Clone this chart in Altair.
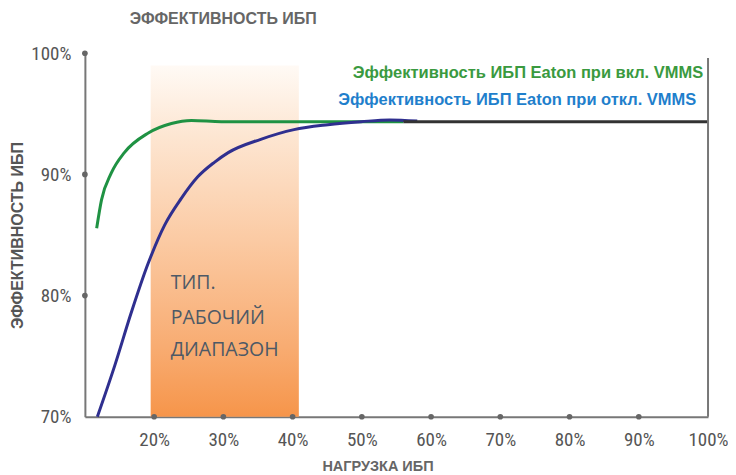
import altair as alt
import pandas as pd

# ---- data ----
green_load = [11.7, 12.4, 13.8, 15.7, 19.1, 22.5, 25.4, 29.7, 35.0, 42.0, 50.0, 56.0]
green_eff = [85.55, 87.9, 90.1, 91.8, 93.4, 94.2, 94.45, 94.35, 94.35, 94.35, 94.35, 94.35]

blue_load = [11.8, 14.3, 16.7, 19.1, 21.5, 23.9, 26.3, 28.7, 30.7, 35.4, 40.2, 45.1, 49.9, 54.0, 58.0]
blue_eff = [70.0, 74.2, 78.6, 82.6, 85.8, 88.0, 89.8, 91.0, 91.8, 92.9, 93.7, 94.1, 94.35, 94.5, 94.4]

merged_load = [56.0, 100.0]
merged_eff = [94.35, 94.35]

band_start, band_end, band_low, band_high = 19.5, 40.9, 70, 99
x_tick_values = [20, 30, 40, 50, 60, 70, 80, 90, 100]
x_dot_values = [20, 30, 40, 50, 60, 70, 80, 90]
y_tick_values = [70, 80, 90, 100]
y_dot_values = [80, 90, 100]

title_text = "ЭФФЕКТИВНОСТЬ ИБП"
x_title = "НАГРУЗКА ИБП"
y_title = "ЭФФЕКТИВНОСТЬ ИБП"
green_label = "Эффективность ИБП Eaton при вкл. VMMS"
blue_label = "Эффективность ИБП Eaton при откл. VMMS"
band_lines = ["ТИП.", "РАБОЧИЙ", "ДИАПАЗОН"]
band_line_y = [81.05, 78.16, 75.52]
band_label_x = 22.4

# ---- tables ----
green_df = pd.DataFrame({"load": green_load, "eff": green_eff})
blue_df = pd.DataFrame({"load": blue_load, "eff": blue_eff})
merged_df = pd.DataFrame({"load": merged_load, "eff": merged_eff})
band_df = pd.DataFrame({"load": [band_start], "x2": [band_end], "eff": [band_low], "y2": [band_high]})
xdots_df = pd.DataFrame({"load": x_dot_values, "eff": [70] * len(x_dot_values)})
ydots_df = pd.DataFrame({"load": [10] * len(y_dot_values), "eff": y_dot_values})
right_df = pd.DataFrame({"load": [100], "eff": [70], "eff2": [99.6]})
legend_df = pd.DataFrame({
    "load": [99.3, 98.3], "eff": [98.36, 96.13],
    "label": [green_label, blue_label], "c": ["#3a9a3f", "#1f7fcc"],
})
band_text_df = pd.DataFrame({"load": [band_label_x] * 3, "eff": band_line_y, "label": band_lines})

xscale = alt.Scale(domain=[10, 100], nice=False, zero=False)
yscale = alt.Scale(domain=[70, 100], nice=False, zero=False)

AX = "#777777"
LBL = "#555555"
narrow = "Liberation Sans Narrow, Roboto Condensed, Roboto, sans-serif"
boldf = "Liberation Sans, Arial, sans-serif"

x_axis = alt.Axis(values=x_tick_values, labelExpr="datum.value + '%'",
                  domainColor=AX, domainWidth=2, ticks=False, grid=False,
                  labelFont=narrow, labelFontSize=19, labelColor=LBL, labelPadding=14,
                  title=x_title, titleFont=boldf, titleFontSize=14.5, titleColor="#666666",
                  titleFontWeight="bold", titleX=293, titleY=43, titleBaseline="top",
                  labelFlush=False)
y_axis = alt.Axis(values=y_tick_values, labelExpr="datum.value + '%'",
                  domainColor=AX, domainWidth=2, ticks=False, grid=False,
                  labelFont=narrow, labelFontSize=19, labelColor=LBL, labelPadding=14,
                  title=y_title, titleFont=boldf, titleFontSize=16, titleColor="#555555",
                  titleFontWeight="bold", titleX=-67, titleY=182, titleAngle=270,
                  titleAlign="center", titleBaseline="middle", labelFlush=False)

X = alt.X("load:Q", scale=xscale, axis=x_axis)
Y = alt.Y("eff:Q", scale=yscale, axis=y_axis)

grad = alt.LinearGradient(
    gradient="linear", x1=0, x2=0, y1=0, y2=1,
    stops=[
        alt.GradientStop(color="#fffaf5", offset=0),
        alt.GradientStop(color="#fde6d2", offset=0.2),
        alt.GradientStop(color="#fbcaa3", offset=0.5),
        alt.GradientStop(color="#f8ac72", offset=0.8),
        alt.GradientStop(color="#f6954a", offset=1),
    ],
)

band = alt.Chart(band_df).mark_rect(color=grad).encode(x=X, x2="x2:Q", y=Y, y2="y2:Q")

def line(df, color):
    return alt.Chart(df).mark_line(color=color, strokeWidth=3, interpolate="monotone").encode(x=X, y=Y)

green = line(green_df, "#1f9243")
blue = line(blue_df, "#2f2f8f")
merged = line(merged_df, "#333333")

right_rule = alt.Chart(right_df).mark_rule(color=AX, strokeWidth=2).encode(x=X, y=Y, y2="eff2:Q")

xdots = alt.Chart(xdots_df).mark_circle(color="#666666", size=32, opacity=1).encode(x=X, y=Y)
ydots = alt.Chart(ydots_df).mark_circle(color="#666666", size=32, opacity=1).encode(x=X, y=Y)

legend_text = alt.Chart(legend_df).mark_text(
    align="right", baseline="middle", font=boldf, fontSize=16.5, fontWeight="bold"
).encode(x=X, y=Y, text="label:N", color=alt.Color("c:N", scale=None))

band_text = alt.Chart(band_text_df).mark_text(
    align="left", baseline="middle", font="Open Sans, Noto Sans, sans-serif",
    fontSize=19.5, color="#4d5966"
).encode(x=X, y=Y, text="label:N")

chart = alt.layer(
    band, green, blue, merged, right_rule, xdots, ydots, legend_text, band_text
).properties(
    width=624, height=364,
    autosize="none",
    padding={"left": 77, "top": 45, "right": 20, "bottom": 62},
    title=alt.TitleParams(title_text, anchor="start", frame="group", dx=45, offset=17,
                          font=boldf, fontSize=16, fontWeight="bold", color="#666666"),
).configure_view(stroke=None)

chart.save("out.html", embed_options={"renderer": "svg", "actions": False})
